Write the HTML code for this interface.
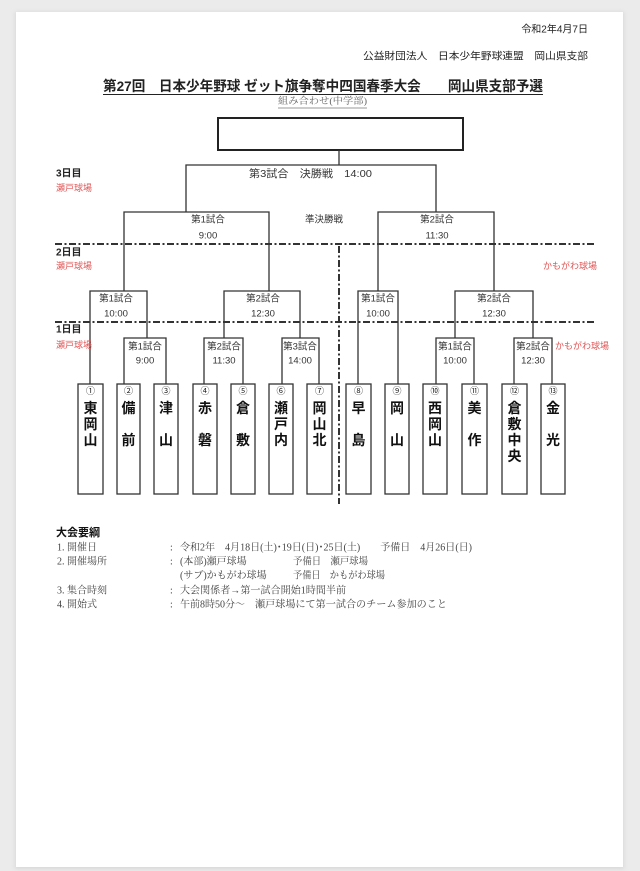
<!DOCTYPE html>
<html><head><meta charset="utf-8"><style>
html,body{margin:0;padding:0;background:#ebebeb;}
svg{display:block;}
.g{font-family:"Liberation Sans","Noto Sans CJK JP",sans-serif;}
.s{font-family:"Liberation Serif","Noto Serif CJK SC",serif;}
</style></head><body>
<svg width="640" height="871" viewBox="0 0 640 871" xmlns="http://www.w3.org/2000/svg">
<defs><filter id="sh" x="-5%" y="-5%" width="110%" height="110%"><feGaussianBlur stdDeviation="2"/></filter></defs>
<rect x="0" y="0" width="640" height="871" fill="#ebebeb"/>
<rect x="15" y="12" width="609" height="857" fill="#d8d8d8" filter="url(#sh)"/>
<rect x="16" y="12" width="607" height="855" fill="#ffffff"/>

<!-- header -->
<g class="g" fill="#222" dominant-baseline="central">
<text x="588" y="30" font-size="10" text-anchor="end">令和2年4月7日</text>
<text x="588" y="57" font-size="10" text-anchor="end" textLength="225" lengthAdjust="spacingAndGlyphs">公益財団法人　日本少年野球連盟　岡山県支部</text>
<text x="103" y="86" font-size="14" font-weight="bold" textLength="440" lengthAdjust="spacingAndGlyphs">第27回　日本少年野球 ゼット旗争奪中四国春季大会　　岡山県支部予選</text>
</g>
<line x1="103" y1="94.5" x2="543" y2="94.5" stroke="#222" stroke-width="1"/>
<text class="s" x="278" y="102" font-size="9.5" fill="#666" dominant-baseline="central" textLength="89" lengthAdjust="spacingAndGlyphs">組み合わせ(中学部)</text>
<line x1="278" y1="108" x2="367" y2="108" stroke="#777" stroke-width="0.8"/>

<!-- bracket -->
<rect x="218" y="118" width="245" height="32" fill="#fff" stroke="#222" stroke-width="2"/>
<g stroke="#333" stroke-width="1.3" fill="none">
<path d="M339 150V165M186 212V165H436V212"/>
<path d="M124 291V212H269V291M378 291V212H494V291"/>
<path d="M90 384V291H147V338M224 338V291H300V338"/>
<path d="M358 384V291H398V384M455 338V291H533V338"/>
<path d="M124 384V338H166V384M204 384V338H243V384M282 384V338H319V384"/>
<path d="M436 384V338H474V384M514 384V338H552V384"/>
</g>

<!-- dash-dot lines -->
<g stroke="#333" stroke-width="2" stroke-dasharray="7 2.5 2 2.5" fill="none">
<line x1="55" y1="244" x2="594" y2="244"/>
<line x1="55" y1="322" x2="594" y2="322"/>
<line x1="339" y1="246" x2="339" y2="504"/>
</g>

<!-- day labels -->
<g class="g" dominant-baseline="central">
<text x="56" y="174" font-size="10" font-weight="bold" fill="#222">3日目</text>
<text x="56" y="188" font-size="9" fill="#e05555">瀬戸球場</text>
<text x="56" y="253" font-size="10" font-weight="bold" fill="#222">2日目</text>
<text x="56" y="266" font-size="9" fill="#e05555">瀬戸球場</text>
<text x="56" y="330" font-size="10" font-weight="bold" fill="#222">1日目</text>
<text x="56" y="345" font-size="9" fill="#e05555">瀬戸球場</text>
<text x="543" y="266" font-size="9" fill="#e05555">かもがわ球場</text>
<text x="555" y="346" font-size="9" fill="#e05555">かもがわ球場</text>
</g>

<!-- match labels -->
<g class="g" fill="#333" font-size="9.5" text-anchor="middle" dominant-baseline="central">
<text x="249" y="174" text-anchor="start" font-size="10.5" textLength="123" lengthAdjust="spacingAndGlyphs">第3試合　決勝戦　14:00</text>
<text x="208" y="220">第1試合</text><text x="208" y="236">9:00</text>
<text x="324" y="220">準決勝戦</text>
<text x="437" y="220">第2試合</text><text x="437" y="236">11:30</text>
<text x="116" y="299">第1試合</text><text x="116" y="314">10:00</text>
<text x="263" y="299">第2試合</text><text x="263" y="314">12:30</text>
<text x="378" y="299">第1試合</text><text x="378" y="314">10:00</text>
<text x="494" y="299">第2試合</text><text x="494" y="314">12:30</text>
<text x="145" y="347">第1試合</text><text x="145" y="361">9:00</text>
<text x="224" y="347">第2試合</text><text x="224" y="361">11:30</text>
<text x="300" y="347">第3試合</text><text x="300" y="361">14:00</text>
<text x="455" y="347">第1試合</text><text x="455" y="361">10:00</text>
<text x="533" y="347">第2試合</text><text x="533" y="361">12:30</text>
</g>

<!-- team boxes -->
<g fill="#fff" stroke="#333" stroke-width="1.3">
<rect x="78" y="384" width="25" height="110"/>
<rect x="117" y="384" width="23" height="110"/>
<rect x="154" y="384" width="24" height="110"/>
<rect x="193" y="384" width="24" height="110"/>
<rect x="231" y="384" width="24" height="110"/>
<rect x="269" y="384" width="24" height="110"/>
<rect x="307" y="384" width="25" height="110"/>
<rect x="346" y="384" width="25" height="110"/>
<rect x="385" y="384" width="24" height="110"/>
<rect x="423" y="384" width="24" height="110"/>
<rect x="462" y="384" width="25" height="110"/>
<rect x="502" y="384" width="25" height="110"/>
<rect x="541" y="384" width="24" height="110"/>
</g>
<g class="g" fill="#222" font-size="9" text-anchor="middle" dominant-baseline="central">
<text x="90.5" y="391">①</text><text x="128.5" y="391">②</text><text x="166" y="391">③</text>
<text x="205" y="391">④</text><text x="243" y="391">⑤</text><text x="281" y="391">⑥</text>
<text x="319.5" y="391">⑦</text><text x="358.5" y="391">⑧</text><text x="397" y="391">⑨</text>
<text x="435" y="391">⑩</text><text x="474.5" y="391">⑪</text><text x="514.5" y="391">⑫</text>
<text x="553" y="391">⑬</text>
</g>
<g class="g" fill="#111" font-size="14" font-weight="bold" text-anchor="middle" dominant-baseline="central">
<text x="90.5" y="408">東</text><text x="90.5" y="424">岡</text><text x="90.5" y="440">山</text>
<text x="128.5" y="408">備</text><text x="128.5" y="440">前</text>
<text x="166" y="408">津</text><text x="166" y="440">山</text>
<text x="205" y="408">赤</text><text x="205" y="440">磐</text>
<text x="243" y="408">倉</text><text x="243" y="440">敷</text>
<text x="281" y="408">瀬</text><text x="281" y="424">戸</text><text x="281" y="440">内</text>
<text x="319.5" y="408">岡</text><text x="319.5" y="424">山</text><text x="319.5" y="440">北</text>
<text x="358.5" y="408">早</text><text x="358.5" y="440">島</text>
<text x="397" y="408">岡</text><text x="397" y="440">山</text>
<text x="435" y="408">西</text><text x="435" y="424">岡</text><text x="435" y="440">山</text>
<text x="474.5" y="408">美</text><text x="474.5" y="440">作</text>
<text x="514.5" y="408">倉</text><text x="514.5" y="424">敷</text><text x="514.5" y="440">中</text><text x="514.5" y="456">央</text>
<text x="553" y="408">金</text><text x="553" y="440">光</text>
</g>

<!-- outline -->
<text class="g" x="56" y="533" font-size="11" font-weight="bold" fill="#111" dominant-baseline="central" textLength="44" lengthAdjust="spacingAndGlyphs">大会要綱</text>
<g class="s" fill="#444" font-size="10" dominant-baseline="central">
<text x="57" y="548">1. 開催日</text>
<text x="170" y="548">:</text>
<text x="180" y="548" textLength="292" lengthAdjust="spacingAndGlyphs">令和2年　4月18日(土)･19日(日)･25日(土)　　予備日　4月26日(日)</text>
<text x="57" y="562">2. 開催場所</text>
<text x="170" y="562">:</text>
<text x="180" y="562">(本部)瀬戸球場</text>
<text x="293" y="562" textLength="75" lengthAdjust="spacingAndGlyphs">予備日　瀬戸球場</text>
<text x="180" y="576">(サブ)かもがわ球場</text>
<text x="293" y="576" textLength="92" lengthAdjust="spacingAndGlyphs">予備日　かもがわ球場</text>
<text x="57" y="591">3. 集合時刻</text>
<text x="170" y="591">:</text>
<text x="180" y="591" textLength="166" lengthAdjust="spacingAndGlyphs">大会関係者→第一試合開始1時間半前</text>
<text x="57" y="605">4. 開始式</text>
<text x="170" y="605">:</text>
<text x="180" y="605" textLength="65" lengthAdjust="spacingAndGlyphs">午前8時50分～</text>
<text x="255" y="605" textLength="192" lengthAdjust="spacingAndGlyphs">瀬戸球場にて第一試合のチーム参加のこと</text>
</g>
</svg>
</body></html>
